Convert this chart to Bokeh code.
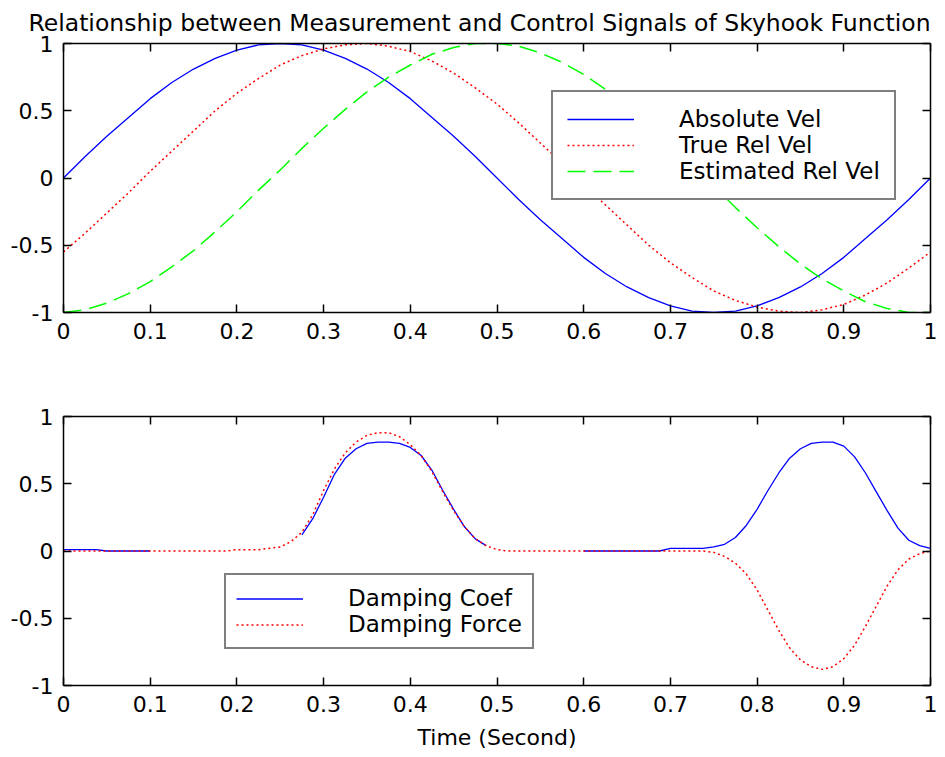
from bokeh.plotting import figure
from bokeh.models import Range1d, LinearAxis, FixedTicker, Legend, LegendItem
from bokeh.layouts import column
from bokeh.embed import file_html
from bokeh.resources import INLINE

nan = float("nan")

title_text = "Relationship between Measurement and Control Signals of Skyhook Function"
x_label = "Time (Second)"
x_ticks = [0, 0.1, 0.2, 0.3, 0.4, 0.5, 0.6, 0.7, 0.8, 0.9, 1]
x_tick_labels = ["0", "0.1", "0.2", "0.3", "0.4", "0.5", "0.6", "0.7", "0.8", "0.9", "1"]
y_ticks = [-1, -0.5, 0, 0.5, 1]
y_tick_labels = ["-1", "-0.5", "0", "0.5", "1"]

# ---- top panel: time grid step 0.025 s
t_top = [k * 0.025 for k in range(41)]
absolute_vel = [0.00, 0.16, 0.31, 0.45, 0.59, 0.71, 0.81, 0.89, 0.95, 0.99,
                1.00, 0.99, 0.95, 0.89, 0.81, 0.71, 0.59, 0.45, 0.31, 0.16,
                0.00, -0.16, -0.31, -0.45, -0.59, -0.71, -0.81, -0.89, -0.95, -0.99,
                -1.00, -0.99, -0.95, -0.89, -0.81, -0.71, -0.59, -0.45, -0.31, -0.16,
                0.00]
true_rel_vel = [-0.55, -0.41, -0.26, -0.11, 0.05, 0.20, 0.35, 0.50, 0.63, 0.74,
                0.84, 0.91, 0.96, 0.99, 1.00, 0.98, 0.94, 0.87, 0.78, 0.67,
                0.55, 0.41, 0.26, 0.11, -0.05, -0.20, -0.35, -0.50, -0.63, -0.74,
                -0.84, -0.91, -0.96, -0.99, -1.00, -0.98, -0.94, -0.87, -0.78, -0.67,
                -0.55]
est_rel_vel = [-1.00, -0.98, -0.93, -0.86, -0.77, -0.66, -0.54, -0.40, -0.25, -0.09,
               0.06, 0.22, 0.37, 0.51, 0.64, 0.75, 0.84, 0.92, 0.97, 1.00,
               1.00, 0.98, 0.93, 0.86, 0.77, 0.66, 0.54, 0.40, 0.25, 0.09,
               -0.06, -0.22, -0.37, -0.51, -0.64, -0.75, -0.84, -0.92, -0.97, -1.00,
               -1.00]

# ---- bottom panel: time grid step 0.0125 s
t_bot = [k * 0.0125 for k in range(81)]
damping_coef = [0.01, 0.01, 0.01, 0.01, 0.00, 0.00, 0.00, 0.00, 0.00, nan,
                nan, nan, nan, nan, nan, nan, nan, nan, nan, nan,
                nan, nan, 0.12, 0.24, 0.40, 0.57, 0.69, 0.76, 0.80, 0.81,
                0.81, 0.80, 0.77, 0.71, 0.60, 0.45, 0.31, 0.18, 0.09, 0.04,
                nan, nan, nan, nan, nan, nan, nan, nan, 0.00, 0.00,
                0.00, 0.00, 0.00, 0.00, 0.00, 0.00, 0.02, 0.02, 0.02, 0.02,
                0.03, 0.05, 0.10, 0.19, 0.31, 0.45, 0.58, 0.69, 0.76, 0.80,
                0.81, 0.81, 0.78, 0.70, 0.58, 0.44, 0.30, 0.17, 0.08, 0.04,
                0.02]
damping_force = [0.00, 0.00, 0.00, 0.00, 0.00, 0.00, 0.00, 0.00, 0.00, 0.00,
                 0.00, 0.00, 0.00, 0.00, 0.00, 0.00, 0.01, 0.01, 0.01, 0.02,
                 0.03, 0.07, 0.14, 0.27, 0.45, 0.61, 0.73, 0.81, 0.86, 0.88,
                 0.88, 0.85, 0.79, 0.71, 0.59, 0.44, 0.30, 0.18, 0.09, 0.04,
                 0.01, 0.00, 0.00, 0.00, 0.00, 0.00, 0.00, 0.00, 0.00, 0.00,
                 0.00, 0.00, 0.00, 0.00, 0.00, 0.00, 0.00, 0.00, 0.00, 0.00,
                 -0.01, -0.04, -0.09, -0.17, -0.29, -0.44, -0.59, -0.72, -0.81, -0.86,
                 -0.88, -0.86, -0.80, -0.70, -0.56, -0.41, -0.26, -0.14, -0.06, -0.02,
                 0.00]

FONT = "DejaVu Sans"
TICK_SIZE = "22px"
LEGEND_SIZE = "23px"
BLUE = "#0000ff"
RED = "#ff0000"
GREEN = "#00ff00"


def style_axis(ax, ticks, labels, show_labels, standoff):
    ax.ticker = FixedTicker(ticks=ticks)
    ax.major_tick_in = 8
    ax.major_tick_out = 0
    ax.minor_tick_line_color = None
    ax.axis_line_color = "#000000"
    ax.axis_line_width = 1.5
    ax.major_tick_line_color = "#000000"
    ax.major_tick_line_width = 1.5
    ax.major_label_text_font = FONT
    if show_labels:
        ax.major_label_overrides = {tk: lb for tk, lb in zip(ticks, labels)}
        ax.major_label_text_color = "#000000"
        ax.major_label_text_font_size = TICK_SIZE
        ax.major_label_standoff = standoff
    else:
        ax.major_label_text_color = None
        ax.major_label_text_font_size = "0px"
        ax.major_label_standoff = 0


def make_fig(height, top, bottom, title=None):
    kw = dict(width=945, height=height,
              x_range=Range1d(0, 1), y_range=Range1d(-1, 1),
              output_backend="svg", toolbar_location=None,
              min_border_left=63, min_border_right=15,
              min_border_top=top, min_border_bottom=bottom,
              background_fill_color="white", border_fill_color="white")
    if title:
        kw["title"] = title
    p = figure(**kw)
    p.xgrid.visible = False
    p.ygrid.visible = False
    p.outline_line_color = None
    style_axis(p.below[0], x_ticks, x_tick_labels, True, 10)
    style_axis(p.left[0], y_ticks, y_tick_labels, True, 10)
    ax_top = LinearAxis()
    style_axis(ax_top, x_ticks, x_tick_labels, False, 0)
    p.add_layout(ax_top, "above")
    ax_right = LinearAxis()
    style_axis(ax_right, y_ticks, y_tick_labels, False, 0)
    p.add_layout(ax_right, "right")
    return p


def make_legend(items, loc, row_h, pad):
    lg = Legend(items=items, location=loc)
    lg.border_line_color = "#000000"
    lg.border_line_width = 2
    lg.background_fill_color = "white"
    lg.background_fill_alpha = 1
    lg.padding = pad
    lg.spacing = 0
    lg.margin = 0
    lg.glyph_width = 67
    lg.glyph_height = row_h
    lg.label_height = row_h
    lg.label_standoff = 45
    lg.label_text_font = FONT
    lg.label_text_font_size = LEGEND_SIZE
    lg.label_text_color = "#000000"
    return lg


# ---------------- top figure
p1 = make_fig(361, 43, 49, title=title_text)
p1.title.align = "left"
p1.title.offset = -35
p1.title.text_font = FONT
p1.title.text_font_size = "23.5px"
p1.title.text_font_style = "normal"
p1.title.text_color = "#000000"
p1.title.standoff = 13

r_abs = p1.line(t_top, absolute_vel, line_color=BLUE, line_width=1.3)
r_true = p1.line(t_top, true_rel_vel, line_color=RED, line_width=1.5, line_dash="2 3")
r_est = p1.line(t_top, est_rel_vel, line_color=GREEN, line_width=1.5, line_dash="18 8")

lg1 = make_legend([LegendItem(label="Absolute Vel", renderers=[r_abs]),
                   LegendItem(label="True Rel Vel", renderers=[r_true]),
                   LegendItem(label="Estimated Rel Vel", renderers=[r_est])],
                  (488, 112), 26, 14)
p1.add_layout(lg1)

# ---------------- bottom figure
p2 = make_fig(395, 55, 71)
xb = p2.below[0]
xb.axis_label = x_label
xb.axis_label_text_font = FONT
xb.axis_label_text_font_size = "22px"
xb.axis_label_text_font_style = "normal"
xb.axis_label_text_color = "#000000"
xb.axis_label_standoff = 10

r_coef = p2.line(t_bot, damping_coef, line_color=BLUE, line_width=1.3)
r_force = p2.line(t_bot, damping_force, line_color=RED, line_width=1.5, line_dash="2 3")

lg2 = make_legend([LegendItem(label="Damping Coef", renderers=[r_coef]),
                   LegendItem(label="Damping Force", renderers=[r_force])],
                  (161, 36), 23, 10)
p2.add_layout(lg2)

layout = column(p1, p2)
open("out.html", "w").write(file_html(layout, INLINE))
